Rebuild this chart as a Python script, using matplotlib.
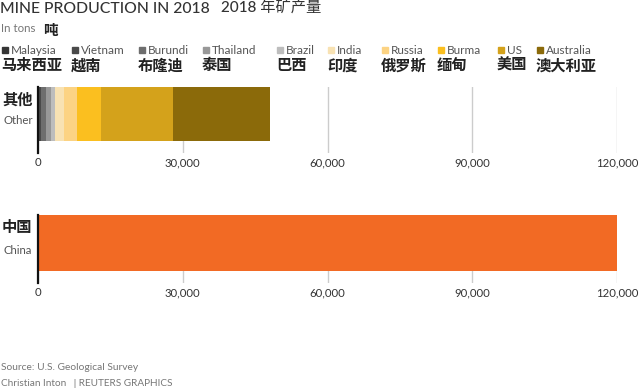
import matplotlib
matplotlib.use("Agg")
import matplotlib.pyplot as plt
from matplotlib.patches import Rectangle
from matplotlib.ticker import FuncFormatter

plt.rcParams['font.family'] = ['Lato', 'Noto Sans CJK SC', 'DejaVu Sans']

# data (tons, 2018)
countries_en = ["Malaysia", "Vietnam", "Burundi", "Thailand", "Brazil",
                "India", "Russia", "Burma", "US", "Australia"]
countries_zh = ["马来西亚", "越南", "布隆迪", "泰国", "巴西",
                "印度", "俄罗斯", "缅甸", "美国", "澳大利亚"]
other_values = [200, 400, 1000, 1000, 1000, 1800, 2600, 5000, 15000, 20000]
china_value = 120000
ticks = [0, 30000, 60000, 90000, 120000]

colors = ["#353535", "#4a4a4a", "#6e6e6e", "#989898", "#bdbdbd",
          "#f8e2b3", "#fcd383", "#fbbf1f", "#d4a21b", "#8b6a0a"]
china_color = "#f26a24"

W, H = 640, 388
fig = plt.figure(figsize=(W / 100, H / 100), dpi=100)


def fx(x):
    return x / W


def fy(y):
    return 1 - y / H


def txt(x, y, s, **kw):
    kw.setdefault("va", "center")
    kw.setdefault("ha", "left")
    fig.text(fx(x), fy(y), s, **kw)


# header
txt(0, 9, "MINE PRODUCTION IN 2018", fontsize=11.3, color="#333333", fontweight="medium")
txt(221, 9, "2018 年矿产量", fontsize=11, color="#333333", fontweight="medium")
txt(1, 29, "In tons", fontsize=8.3, color="#777777")
txt(43, 31, "吨", fontsize=10.5, color="#222222", fontweight="bold")

# legend
legend_x = [2, 72, 139, 203, 277, 328, 382, 438, 498, 537]
for lx, en, zh, c in zip(legend_x, countries_en, countries_zh, colors):
    fig.patches.append(Rectangle((fx(lx), fy(53)), 6 / W, 6 / H,
                                 transform=fig.transFigure, color=c))
    txt(lx + 9, 50, en, fontsize=8.5, color="#555555")
    txt(lx - 1, 66, zh, fontsize=11, color="#222222", fontweight="bold")


def style_axis(ax):
    ax.set_xlim(0, 120000)
    ax.set_ylim(0, 1)
    ax.set_xticks(ticks)
    ax.xaxis.set_major_formatter(FuncFormatter(lambda v, p: f"{int(v):,}"))
    ax.set_yticks([])
    ax.grid(axis="x", color="#cccccc", linewidth=1)
    ax.set_axisbelow(True)
    for s in ["top", "right", "bottom"]:
        ax.spines[s].set_visible(False)
    ax.spines["left"].set_color("#111111")
    ax.spines["left"].set_linewidth(1.6)
    ax.spines["left"].set_zorder(5)
    ax.tick_params(axis="x", length=0, pad=3, labelsize=8.2, labelcolor="#333333")


left = 38 / W
width = (617 - 38) / W

# other countries
ax1 = fig.add_axes([left, fy(153), width, 66 / H])
cum = 0
for v, c in zip(other_values, colors):
    ax1.barh(12 / 66, v, left=cum, height=54 / 66, align="edge", color=c, linewidth=0)
    cum += v
style_axis(ax1)

# china
ax2 = fig.add_axes([left, fy(283), width, 68 / H])
ax2.barh(12 / 68, china_value, height=56 / 68, align="edge", color=china_color, linewidth=0)
style_axis(ax2)

# row labels
txt(2, 101, "其他", fontsize=11, color="#222222", fontweight="bold")
txt(3, 121, "Other", fontsize=8.2, color="#555555")
txt(2, 228, "中国", fontsize=11, color="#222222", fontweight="bold")
txt(3, 251, "China", fontsize=8.2, color="#555555")

# footer
txt(1, 367, "Source: U.S. Geological Survey", fontsize=7.4, color="#777777")
txt(1, 383, "Christian Inton   | REUTERS GRAPHICS", fontsize=7.2, color="#777777")

fig.savefig("out.png", dpi=100)
